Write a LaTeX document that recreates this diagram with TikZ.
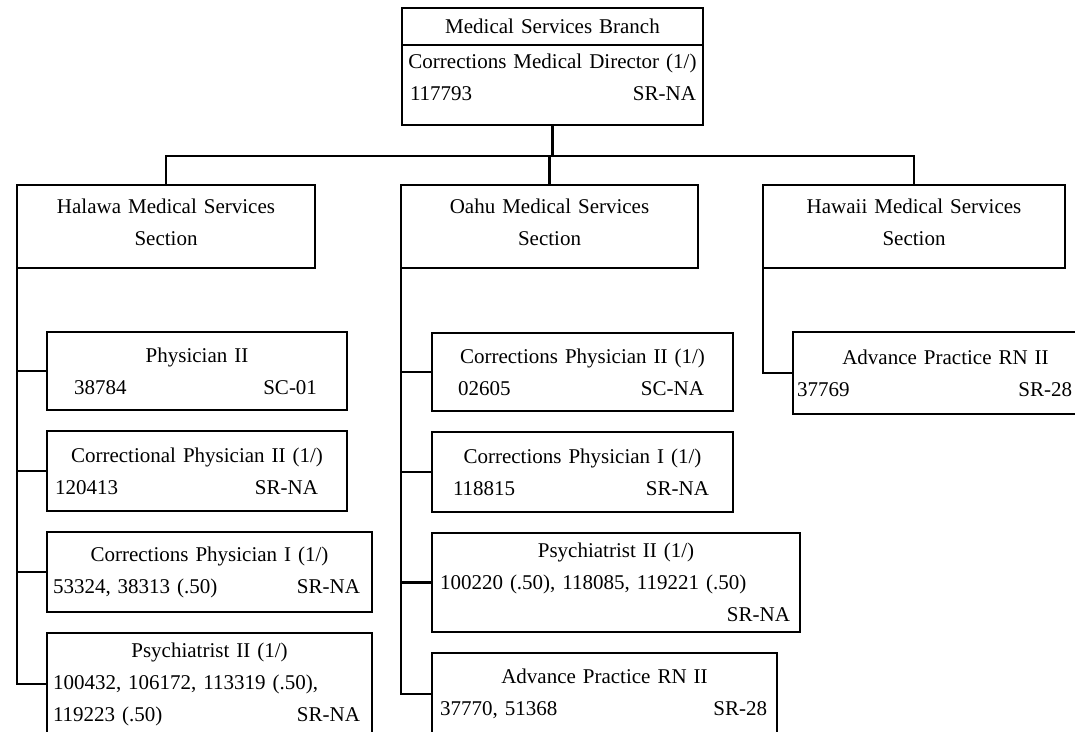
\documentclass[tikz,border=0pt]{standalone}
\usepackage{fontspec}
\setmainfont{Liberation Serif}
\usetikzlibrary{positioning}
\newlength{\pxu}
\setlength{\pxu}{0.5pt}
\newcommand{\numline}[4]{\hspace*{#1\pxu}#2\hfill#3\hspace*{#4\pxu}\null}

\begin{document}
\begin{tikzpicture}[
    x=0.5pt,y=-0.5pt,
    node distance=21\pxu,
    box/.style={draw,line width=1.3pt,outer sep=0pt,inner sep=0pt,align=center,
        font=\fontsize{10.5}{16}\selectfont},
    post/.style 2 args={box,anchor=north west,text width=#1\pxu,minimum height=#2\pxu},
    link/.style={line width=1.3pt}
]
\useasboundingbox (0,0) rectangle (1075,732);

% branch
\node[post={301}{37}] (branch) at (402,8) {Medical Services Branch};
\node[post={301}{80},text depth=24pt,below=0pt of branch.south west,anchor=north west] (director)
    {Corrections Medical Director (1/)\\\numline{8}{117793}{SR-NA}{7}};

% sections
\node[post={298}{83},text depth=20pt] (halawa) at (17,185) {Halawa Medical Services\\Section};
\node[post={297}{83},text depth=20pt] (oahu) at (401,185) {Oahu Medical Services\\Section};
\node[post={302}{83},text depth=20pt] (hawaii) at (763,185) {Hawaii Medical Services\\Section};

% halawa positions
\node[post={300}{78}] (hphys) at (47,332)
    {Physician II\\\numline{27}{38784}{SC-01}{30}};
\node[post={300}{80},below=of hphys.south west,anchor=north west] (hcorr)
    {Correctional Physician II (1/)\\\numline{8}{120413}{SR-NA}{29}};
\node[post={325}{80},below=of hcorr.south west,anchor=north west] (hcpi)
    {Corrections Physician I (1/)\\\numline{6}{53324, 38313 (.50)}{SR-NA}{12}};
\node[post={325}{102},below=of hcpi.south west,anchor=north west] (hpsy)
    {Psychiatrist II (1/)\\\numline{6}{100432, 106172, 113319 (.50),}{}{0}\\
     \numline{6}{119223 (.50)}{SR-NA}{12}};

% oahu positions
\node[post={301}{78}] (ocp2) at (432,333)
    {Corrections Physician II (1/)\\\numline{26}{02605}{SC-NA}{29}};
\node[post={301}{80},below=of ocp2.south west,anchor=north west] (ocp1)
    {Corrections Physician I (1/)\\\numline{21}{118815}{SR-NA}{24}};
\node[post={368}{99},below=of ocp1.south west,anchor=north west] (opsy)
    {Psychiatrist II (1/)\\\numline{8}{100220 (.50), 118085, 119221 (.50)}{}{0}\\
     \numline{8}{}{SR-NA}{10}};
\node[post={345}{82},below=of opsy.south west,anchor=north west] (oaprn)
    {Advance Practice RN II\\\numline{8}{37770, 51368}{SR-28}{10}};

% hawaii position
\node[post={305}{82}] (haprn) at (793,332)
    {Advance Practice RN II\\\numline{4}{37769}{SR-28}{26}};

% connectors
\draw[link] (director.south) -- ++(0,31) coordinate (bus) -| (halawa.north);
\draw[link] (bus) -| (oahu.north);
\draw[link] (bus) -| (hawaii.north);

\draw[link] (halawa.south west) |- (hphys.west);
\draw[link] (halawa.south west) |- (hcorr.west);
\draw[link] (halawa.south west) |- (hcpi.west);
\draw[link] (halawa.south west) |- (hpsy.west);

\draw[link] (oahu.south west) |- (ocp2.west);
\draw[link] (oahu.south west) |- (ocp1.west);
\draw[link] (oahu.south west) |- (opsy.west);
\draw[link] (oahu.south west) |- (oaprn.west);

\draw[link] (hawaii.south west) |- (haprn.west);
\end{tikzpicture}
\end{document}
